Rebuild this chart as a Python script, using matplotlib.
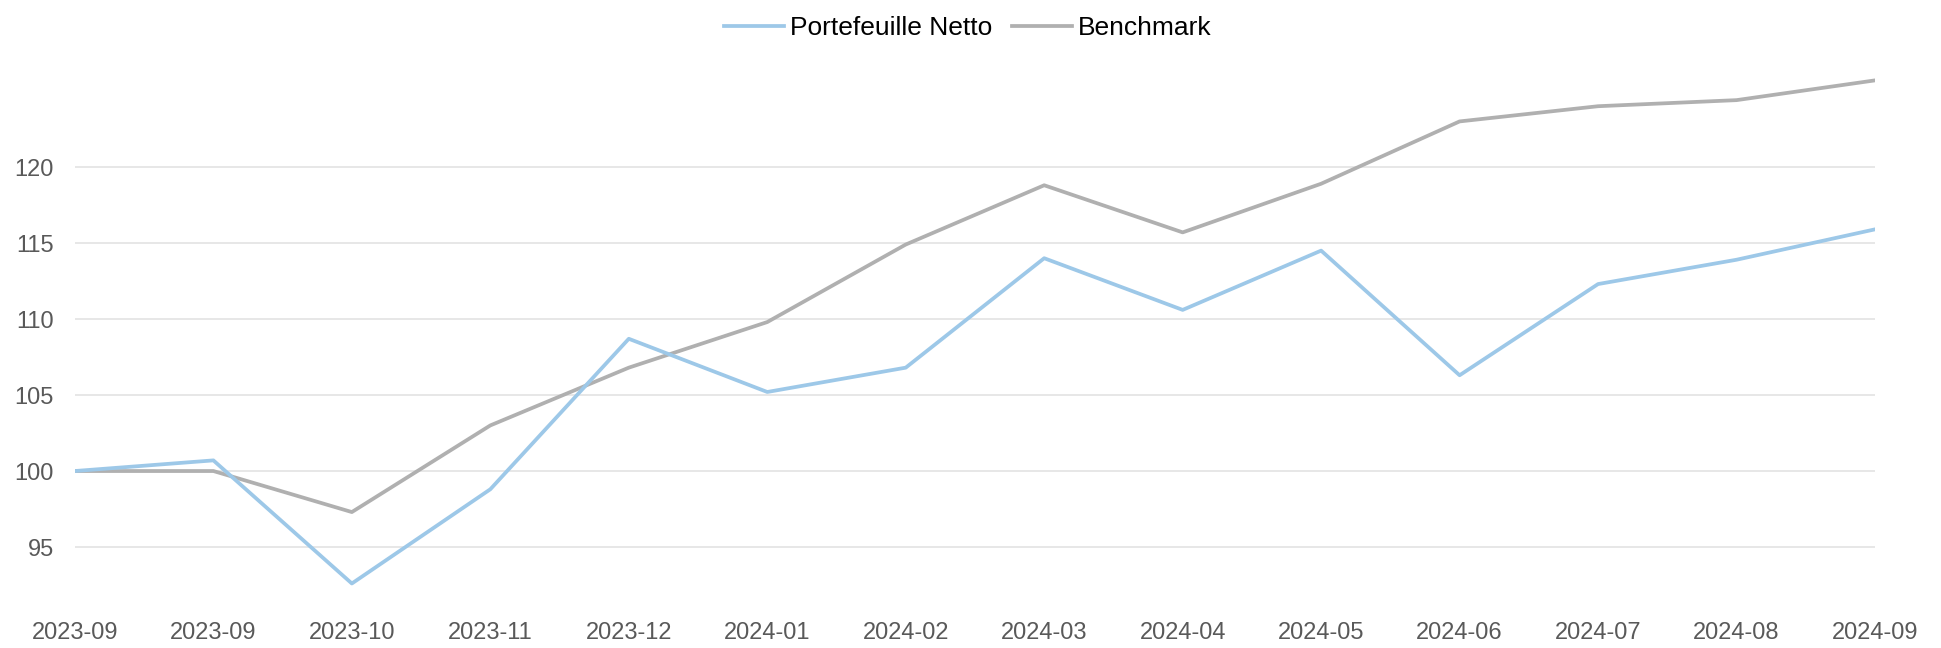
import matplotlib
matplotlib.use("Agg")
import matplotlib.pyplot as plt
import numpy as np

plt.rcParams['font.family'] = ['Liberation Sans', 'DejaVu Sans']

months = ['2023-09', '2023-09', '2023-10', '2023-11', '2023-12', '2024-01', '2024-02',
          '2024-03', '2024-04', '2024-05', '2024-06', '2024-07', '2024-08', '2024-09']
portfolio = [100.0, 100.7, 92.6, 98.8, 108.7, 105.2, 106.8,
             114.0, 110.6, 114.5, 106.3, 112.3, 113.9, 115.9]
benchmark = [100.0, 100.0, 97.3, 103.0, 106.8, 109.8, 114.9,
             118.8, 115.7, 118.9, 123.0, 124.0, 124.4, 125.7]
yticks = [95, 100, 105, 110, 115, 120]

fig = plt.figure(figsize=(19.41, 6.48), dpi=100)
ax = fig.add_axes([0.0386, 0.062, 0.9274, 0.821])

x = np.arange(len(months))
ax.plot(x, portfolio, color='#9DC8E8', lw=2.7, label='Portefeuille Netto', zorder=3)
ax.plot(x, benchmark, color='#B0B0B0', lw=2.7, label='Benchmark', zorder=2)

ax.set_xlim(0, len(months) - 1)
ax.set_ylim(91.0, 126.0)
ax.set_yticks(yticks)
ax.set_xticks(x)
ax.set_xticklabels(months)
ax.grid(axis='y', color='#E3E3E3', lw=1.2)
ax.set_axisbelow(True)
for s in ax.spines.values():
    s.set_visible(False)
ax.tick_params(axis='both', length=0, labelsize=17, colors='#595959')
ax.tick_params(axis='x', pad=10)
ax.tick_params(axis='y', pad=15)

fig.legend(loc='center', bbox_to_anchor=(0.4985, 0.957), ncol=2, frameon=False,
           fontsize=19, handlelength=2.3, handletextpad=0.2, columnspacing=0.75,
           borderaxespad=0.0, borderpad=0.0)

fig.savefig('out.png', dpi=100)
